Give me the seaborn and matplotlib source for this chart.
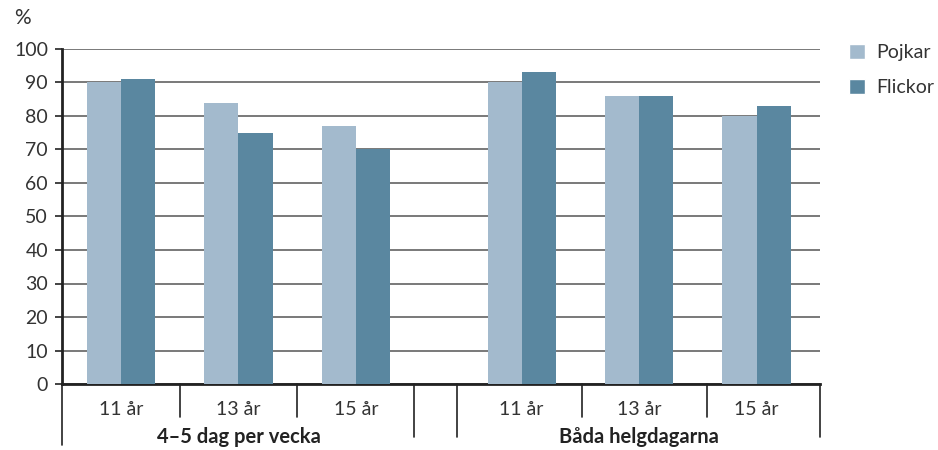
import pandas as pd
import seaborn as sns
import matplotlib.pyplot as plt
import matplotlib.transforms as mtransforms
from matplotlib.patches import Patch

# data
ages = ["11 år", "13 år", "15 år"]
groups = ["4–5 dag per vecka", "Båda helgdagarna"]
pojkar = [90, 84, 77, 90, 86, 80]
flickor = [91, 75, 70, 93, 86, 83]

# bar slot positions (second block shifted right for the gap)
xpos = [0, 1, 2, 3.41, 4.41, 5.41]

light = "#a3bacd"
dark = "#5a87a0"

rows = []
for i, x in enumerate(xpos):
    rows.append({"x": x, "kon": "Pojkar", "andel": pojkar[i]})
    rows.append({"x": x, "kon": "Flickor", "andel": flickor[i]})
df = pd.DataFrame(rows)

sns.set_style("white")
plt.rcParams["font.family"] = ["Lato", "DejaVu Sans"]

fig = plt.figure(figsize=(9.38, 4.5), dpi=100)
ax = fig.add_axes([62 / 938, 66 / 450, (820 - 62) / 938, 335 / 450])

sns.barplot(data=df, x="x", y="andel", hue="kon", native_scale=True,
            palette={"Pojkar": light, "Flickor": dark}, width=0.58,
            saturation=1, linewidth=0, legend=False, ax=ax, zorder=3)

ax.set_xlim(-0.502, 5.95)
ax.set_ylim(0, 100)
ax.set_yticks(range(0, 101, 10))
ax.yaxis.grid(True, color="#555555", linewidth=1.1)
ax.xaxis.grid(False)
ax.set_axisbelow(True)

for s in ["top", "right"]:
    ax.spines[s].set_visible(False)
for s in ["left", "bottom"]:
    ax.spines[s].set_color("#222222")
    ax.spines[s].set_linewidth(2)

ax.tick_params(axis="y", left=True, length=5, width=1.2, color="#222222",
               labelsize=14, labelcolor="#333333", pad=5)
ax.set_xticks(xpos)
ax.set_xticklabels(ages * 2)
ax.tick_params(axis="x", bottom=False, labelsize=14, labelcolor="#333333", pad=9)
ax.set_xlabel("")
ax.set_ylabel("")

# separators below the axis
trans = mtransforms.blended_transform_factory(ax.transData, ax.transAxes)
short = [0.502, 1.498, 3.92, 4.99]
longs = [(2.494, -0.158), (2.86, -0.158), (5.95, -0.158), (-0.502, -0.182)]
for x in short:
    ax.plot([x, x], [0, -0.0985], transform=trans, color="#222222",
            linewidth=1.2, clip_on=False)
for x, y in longs:
    ax.plot([x, x], [0, y], transform=trans, color="#222222",
            linewidth=1.2, clip_on=False)

ax.text(1, -0.158, groups[0], transform=trans, ha="center", va="center",
        fontsize=14.5, fontweight="bold", color="#222222")
ax.text(4.41, -0.158, groups[1], transform=trans, ha="center", va="center",
        fontsize=14.5, fontweight="bold", color="#222222")

fig.text(22 / 938, 1 - 18 / 450, "%", ha="center", va="center",
         fontsize=15, color="#333333")

handles = [Patch(facecolor=light, label="Pojkar"),
           Patch(facecolor=dark, label="Flickor")]
fig.legend(handles=handles, loc="upper left", bbox_to_anchor=(849 / 938, 1 - 44 / 450),
           frameon=False, fontsize=14, handlelength=0.8, handleheight=0.8,
           handletextpad=0.6, labelspacing=0.9, labelcolor="#333333",
           borderpad=0, borderaxespad=0)

fig.savefig("out.png", dpi=100)
